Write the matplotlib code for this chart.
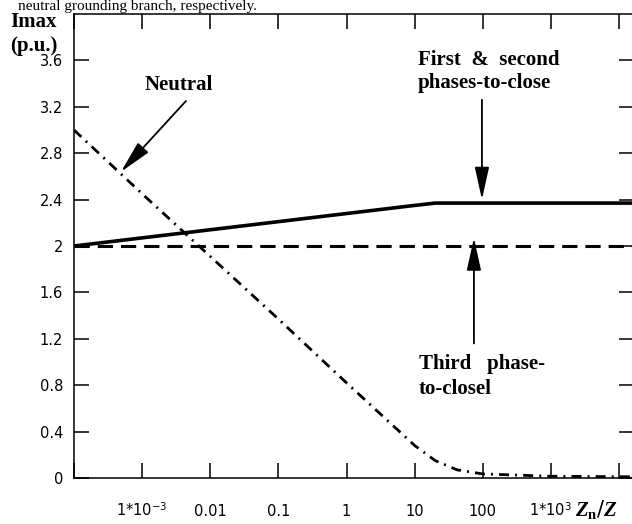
import numpy as np
import matplotlib.pyplot as plt
from matplotlib.ticker import NullLocator
from matplotlib.transforms import blended_transform_factory

plt.rcParams['mathtext.fontset'] = 'custom'
plt.rcParams['mathtext.rm'] = 'DejaVu Sans'
plt.rcParams['mathtext.it'] = 'Liberation Serif:italic:bold'
plt.rcParams['mathtext.bf'] = 'Liberation Serif:bold'

# curve data (x = Zn/Z, y = Imax in p.u.)
zn_z = [1e-4, 1e-3, 1e-2, 1e-1, 1, 10, 20, 42, 100, 1e3, 2e4]
first_second = [2.00, 2.07, 2.14, 2.21, 2.28, 2.35, 2.37, 2.37, 2.37, 2.37, 2.37]
third = [2.0, 2.0, 2.0, 2.0, 2.0, 2.0, 2.0, 2.0, 2.0, 2.0, 2.0]
neutral = [3.00, 2.45, 1.91, 1.37, 0.82, 0.28, 0.15, 0.07, 0.035, 0.015, 0.01]

x_ticks = [1e-4, 1e-3, 1e-2, 1e-1, 1, 10, 100, 1e3, 1e4]
x_labels = ['', '1*10$^{-3}$', '0.01', '0.1', '1', '10', '100', '1*10$^{3}$', '']
y_ticks = [0, 0.4, 0.8, 1.2, 1.6, 2.0, 2.4, 2.8, 3.2, 3.6]
y_labels = ['0', '0.4', '0.8', '1.2', '1.6', '2', '2.4', '2.8', '3.2', '3.6']

fig = plt.figure(figsize=(6.32, 5.24), dpi=100)
ax = fig.add_axes([74 / 632, 46 / 524, 560 / 632, 464 / 524])
ax.set_xscale('log')
ax.set_xlim(1e-4, 10 ** (-4 + 560 / 68.14))
ax.set_ylim(0, 4)

ax.plot(zn_z, first_second, color='black', lw=2.6, solid_capstyle='butt')
ax.plot(zn_z, third, color='black', lw=2.2, dashes=(5, 2.6))
ax.plot(zn_z, neutral, color='black', lw=2.0, dashes=(3.6, 2.2, 0.7, 2.2))

# frame and ticks (Mathcad style, all inward)
for s in ax.spines.values():
    s.set_linewidth(1.1)
ax.set_xticks(x_ticks)
ax.xaxis.set_minor_locator(NullLocator())
ax.set_yticks(y_ticks)
ax.set_yticklabels(y_labels, fontsize=10.5, family='DejaVu Sans')
ax.tick_params(axis='both', direction='in', top=True, right=True,
               length=11, width=1.1, labelbottom=False)
ax.tick_params(axis='y', pad=8)

trans = blended_transform_factory(ax.transData, ax.transAxes)
for xv, lab in zip(x_ticks, x_labels):
    if lab:
        ax.text(xv, -0.0819, lab, transform=trans, ha='center', va='baseline',
                fontsize=10.5, family='DejaVu Sans')
ax.text(0.895, -0.0819, r'$\mathit{Z}_{\mathbf{n}}\mathit{/Z}$', transform=ax.transAxes,
        ha='left', va='baseline', fontsize=15)

# axis title in the corner
bold = dict(family='Liberation Serif', fontweight='bold', fontsize=15)
fig.text(10 / 632, 1 - 27 / 524, 'Imax', va='baseline', **bold)
fig.text(10 / 632, 1 - 51 / 524, '(p.u.)', va='baseline', **bold)

# caption line from the page above the figure
fig.text(18 / 632, 1 - 10 / 524, 'neutral grounding branch, respectively.',
         family='Liberation Serif', fontsize=11, va='baseline')

arrow = dict(arrowstyle='-|>,head_length=1.0,head_width=0.22', color='black',
             lw=1.3, shrinkA=0, shrinkB=0, mutation_scale=20)

ax.text(1.1e-3, 3.345, 'Neutral', **bold)
ax.annotate('', xy=(4.9e-4, 2.64), xytext=(4.4e-3, 3.25), arrowprops=arrow)

ax.text(11.2, 3.56, 'First  &  second', **bold)
ax.text(11.2, 3.36, 'phases-to-close', **bold)
ax.annotate('', xy=(97, 2.40), xytext=(97, 3.26), arrowprops=arrow)

ax.text(11.6, 0.94, 'Third   phase-', **bold)
ax.text(11.6, 0.724, 'to-closel', **bold)
ax.annotate('', xy=(74, 2.07), xytext=(74, 1.16), arrowprops=arrow)

fig.savefig('out.png', dpi=100)
